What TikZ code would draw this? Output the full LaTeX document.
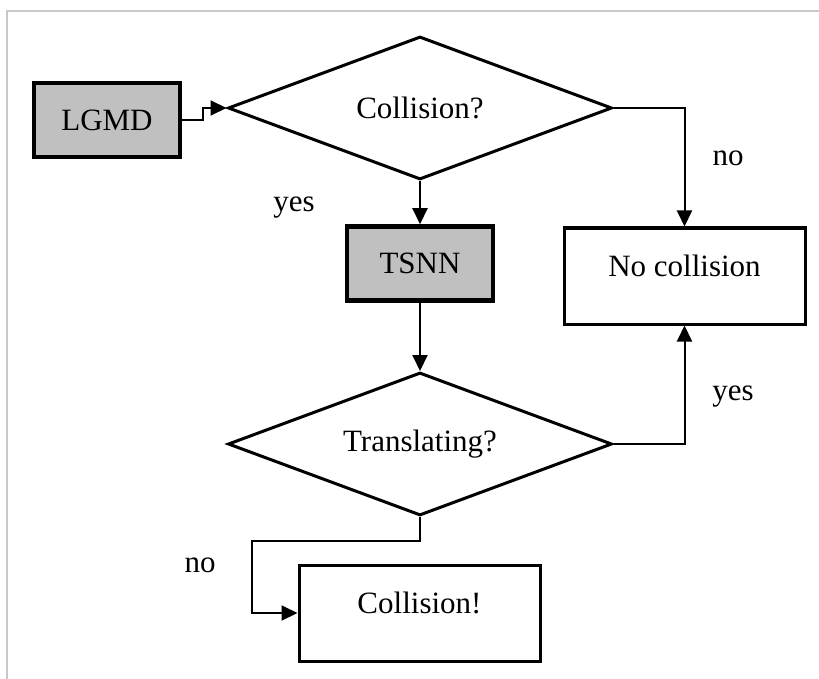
\documentclass[tikz,border=0pt]{standalone}
\usepackage{fontspec}
\setmainfont{Liberation Serif}
\usetikzlibrary{shapes.geometric,arrows.meta}
\begin{document}
\begin{tikzpicture}[x=1pt,y=-1pt,
  every node/.style={font=\fontsize{31}{37}\selectfont},
  graybox/.style={draw,rectangle,fill={rgb,255:red,192;green,192;blue,192},line width=4.5pt,minimum width=146pt,minimum height=74pt,inner sep=0pt},
  whitebox/.style={draw,rectangle,line width=3pt,minimum width=241pt,minimum height=96pt,inner sep=0pt,text height=22pt,text depth=22pt},
  decision/.style={draw,diamond,line width=3pt,minimum width=384pt,minimum height=143pt,shape aspect=2.7,inner sep=0pt},
  arr/.style={line width=2pt,-{Triangle[length=16pt,width=15pt]}},
  lbl/.style={inner sep=0pt}]
\useasboundingbox (0,0) rectangle (819,679);
\draw[line width=2pt,color={rgb,255:red,200;green,200;blue,200}] (7,690) -- (7,11) -- (830,11);

\node[graybox] (lgmd) at (107,120) {LGMD};
\node[decision] (coll) at (420,108) {Collision?};
\node[graybox] (tsnn) at (420,263.5) {TSNN};
\node[decision] (trans) at (420,444) {Translating?};
\node[whitebox] (nocol) at (684.5,276) {No collision};
\node[whitebox] (col) at (419.5,613) {Collision!};

\coordinate (k1) at (203,120);
\coordinate (k2) at (252,541);

\draw[arr] (lgmd.east) -- (k1) |- (coll.west);
\draw[arr] (coll.south) -- (tsnn.north);
\draw[arr] (coll.east) -| (nocol.north);
\draw[arr] (tsnn.south) -- (trans.north);
\draw[arr] (trans.east) -| (nocol.south);
\draw[arr] (trans.south) |- (k2) |- (col.west);

\node[lbl] (l1) at (294,208) {yes};
\node[lbl] (l2) at (728,158) {no};
\node[lbl] (l3) at (733,397) {yes};
\node[lbl] (l4) at (200,565) {no};
\end{tikzpicture}
\end{document}
